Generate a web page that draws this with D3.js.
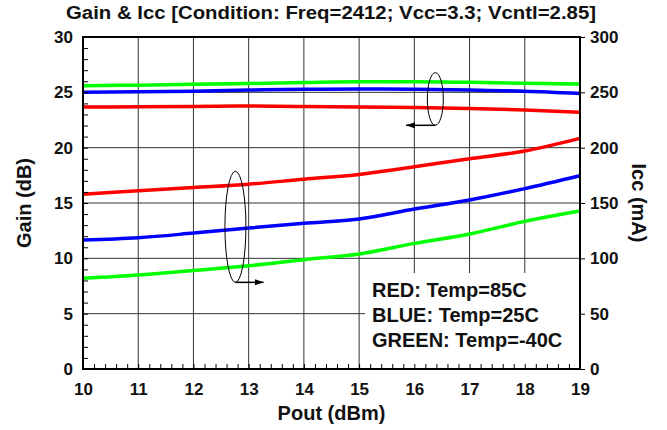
<!DOCTYPE html>
<html lang="en">
<head>
    <meta charset="UTF-8">
    <title>Gain & Icc</title>
    <script src="https://d3js.org/d3.v7.min.js"></script>
    <style>
        body { margin: 0; background: #fff; }
        svg text { font-family: "Liberation Sans", Arial, sans-serif; font-weight: bold; fill: #111; }
    </style>
</head>
<body>
    <div id="chart"></div>
    <script>
        // Pout (dBm) points
        const pout = [10, 11, 12, 13, 14, 15, 16, 17, 18, 19];

        // Gain (dB), left axis
        const gainRed   = [23.67, 23.7, 23.73, 23.76, 23.72, 23.68, 23.64, 23.55, 23.4, 23.2];
        const gainBlue  = [25.0, 25.05, 25.1, 25.2, 25.28, 25.3, 25.27, 25.2, 25.1, 24.9];
        const gainGreen = [25.6, 25.65, 25.72, 25.8, 25.88, 25.95, 25.95, 25.9, 25.83, 25.75];

        // Icc (mA), right axis
        const iccRed   = [158, 161, 164, 167, 171.5, 175.8, 182.7, 190, 197, 208.4];
        const iccBlue  = [116.5, 118.6, 122.8, 127.4, 131.6, 135.5, 144.5, 152.7, 163, 174.6];
        const iccGreen = [81.9, 84.9, 89, 93.3, 98.8, 103.9, 113.5, 122, 133.4, 142.7];

        const gainTicks = [0, 5, 10, 15, 20, 25, 30];
        const iccTicks = [0, 50, 100, 150, 200, 250, 300];
        const legendLines = ["RED: Temp=85C", "BLUE: Temp=25C", "GREEN: Temp=-40C"];

        const width = 667, height = 430;
        const margin = {top: 37, right: 87, bottom: 61, left: 83};
        const w = width - margin.left - margin.right;
        const h = height - margin.top - margin.bottom;

        const svg = d3.select("#chart").append("svg")
                      .attr("width", width)
                      .attr("height", height);

        svg.append("text")
           .attr("x", 331).attr("y", 19)
           .attr("text-anchor", "middle")
           .attr("textLength", 530)
           .attr("lengthAdjust", "spacingAndGlyphs")
           .style("font-size", "18px")
           .text("Gain & Icc [Condition: Freq=2412; Vcc=3.3; Vcntl=2.85]");

        const g = svg.append("g").attr("transform", `translate(${margin.left},${margin.top})`);

        const x = d3.scaleLinear().domain([10, 19]).range([0, w]);
        const yL = d3.scaleLinear().domain([0, 30]).range([h, 0]);
        const yR = d3.scaleLinear().domain([0, 300]).range([h, 0]);

        // grid
        g.append("g").selectAll("line")
         .data(d3.range(11, 19))
         .enter().append("line")
         .attr("x1", d => x(d)).attr("x2", d => x(d))
         .attr("y1", 0).attr("y2", h)
         .attr("stroke", "#333").attr("stroke-width", 1);
        g.append("g").selectAll("line")
         .data(gainTicks.slice(1, -1))
         .enter().append("line")
         .attr("x1", 0).attr("x2", w)
         .attr("y1", d => yL(d)).attr("y2", d => yL(d))
         .attr("stroke", "#333").attr("stroke-width", 1);

        // legend box (covers grid)
        const lx = 365 - margin.left, ly = 273 - margin.top;
        g.append("rect")
         .attr("x", lx).attr("y", ly)
         .attr("width", w - lx).attr("height", h - ly)
         .attr("fill", "#fff");
        g.append("g").selectAll("text")
         .data(legendLines)
         .enter().append("text")
         .attr("x", lx + 7)
         .attr("y", (d, i) => ly + 24 + i * 25)
         .style("font-size", "20px")
         .text(d => d);

        // curves
        const lineL = arr => d3.line().x((d, i) => x(pout[i])).y(d => yL(d)).curve(d3.curveMonotoneX)(arr);
        const lineR = arr => d3.line().x((d, i) => x(pout[i])).y(d => yR(d)).curve(d3.curveMonotoneX)(arr);
        const curves = [
            [lineL(gainGreen), "#00ff00"], [lineL(gainBlue), "#0000ff"], [lineL(gainRed), "#ff0000"],
            [lineR(iccRed), "#ff0000"], [lineR(iccBlue), "#0000ff"], [lineR(iccGreen), "#00ff00"]
        ];
        g.append("g").selectAll("path")
         .data(curves)
         .enter().append("path")
         .attr("d", d => d[0])
         .attr("fill", "none")
         .attr("stroke", d => d[1])
         .attr("stroke-width", 3.5);

        // annotations
        svg.append("defs").append("marker")
           .attr("id", "ah").attr("viewBox", "0 0 10 10")
           .attr("refX", 10).attr("refY", 5)
           .attr("markerWidth", 9).attr("markerHeight", 9)
           .attr("markerUnits", "userSpaceOnUse")
           .attr("orient", "auto")
           .append("path").attr("d", "M0,1.5L10,5L0,8.5Z").attr("fill", "#000");

        const ell = [
            {cx: 16.38, cy: 24.4, rx: 8, ry: 2.38, to: 15.85},
            {cx: 12.76, cy: 12.85, rx: 10.5, ry: 5.02, to: 13.27}
        ];
        ell.forEach(e => {
            g.append("ellipse")
             .attr("cx", x(e.cx)).attr("cy", yL(e.cy))
             .attr("rx", e.rx).attr("ry", yL(0) - yL(e.ry))
             .attr("fill", "none").attr("stroke", "#000").attr("stroke-width", 1);
            const yb = yL(e.cy - e.ry);
            g.append("line")
             .attr("x1", x(e.cx)).attr("y1", yb)
             .attr("x2", x(e.to)).attr("y2", yb)
             .attr("stroke", "#000").attr("stroke-width", 1.5)
             .attr("marker-end", "url(#ah)");
        });

        // axes
        const tickStyle = sel => {
            sel.select(".domain").remove();
            sel.selectAll("text").style("font-size", "17px");
            sel.selectAll("line").attr("stroke", "#000");
        };
        g.append("g")
         .call(d3.axisLeft(yL).tickValues(d3.range(0, 31, 1)).tickSize(-5).tickFormat(d => d % 5 === 0 ? d : "").tickPadding(10))
         .call(tickStyle);
        g.append("g")
         .attr("transform", `translate(0,${h})`)
         .call(d3.axisBottom(x).tickValues(d3.range(10, 19.01, 0.2)).tickSize(-5)
               .tickFormat(d => Math.abs(d - Math.round(d)) < 1e-6 ? Math.round(d) : "").tickPadding(14))
         .call(tickStyle);
        g.append("g")
         .attr("transform", `translate(${w},0)`)
         .call(d3.axisRight(yR).tickValues(iccTicks).tickSize(5).tickPadding(5))
         .call(tickStyle);

        g.append("rect")
         .attr("width", w).attr("height", h)
         .attr("fill", "none").attr("stroke", "#000").attr("stroke-width", 2);

        // axis titles
        svg.append("text")
           .attr("transform", `translate(31,${margin.top + h / 2}) rotate(-90)`)
           .attr("text-anchor", "middle")
           .style("font-size", "20px")
           .text("Gain (dB)");
        svg.append("text")
           .attr("transform", `translate(632,${margin.top + h / 2}) rotate(90)`)
           .attr("text-anchor", "middle")
           .style("font-size", "20px")
           .text("Icc (mA)");
        svg.append("text")
           .attr("x", margin.left + w / 2).attr("y", 420)
           .attr("text-anchor", "middle")
           .style("font-size", "20px")
           .text("Pout (dBm)");
    </script>
</body>
</html>
